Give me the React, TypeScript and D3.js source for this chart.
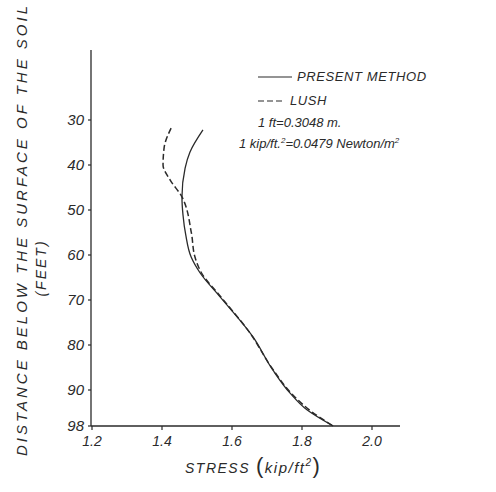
import React from "react";
import * as d3 from "d3";

const yTicks = [30, 40, 50, 60, 70, 80, 90, 98];
const xTicks = [1.2, 1.4, 1.6, 1.8, 2.0];
const xTickLabels = ["1.2", "1.4", "1.6", "1.8", "2.0"];

const presentStress = [1.517, 1.48, 1.466, 1.457, 1.46, 1.468, 1.483, 1.509, 1.566, 1.66, 1.717, 1.766, 1.814, 1.889];
const presentDepth = [32.2, 37.1, 40.7, 47.1, 51.1, 55.6, 60.4, 64, 69.3, 78.2, 85.6, 90.7, 94.4, 98];

const lushStress = [1.426, 1.406, 1.403, 1.423, 1.457, 1.484, 1.494, 1.513, 1.566, 1.651, 1.714, 1.774, 1.829, 1.889];
const lushDepth = [31.8, 36.2, 40, 43.3, 47.1, 55.1, 60.4, 64, 69.1, 77.3, 85.1, 91.1, 94.9, 98];

const FONT = "'Liberation Sans', 'DejaVu Sans', sans-serif";
const INK = "#2a2a2a";

export default function App() {
  const x = d3.scaleLinear().domain([1.2, 2.0]).range([92, 372]);
  const y = d3.scaleLinear().domain([30, 98]).range([120, 426]);

  const line = d3
    .line<[number, number]>()
    .x((d) => x(d[0]))
    .y((d) => y(d[1]))
    .curve(d3.curveMonotoneY);

  const present = line(presentStress.map((s, i) => [s, presentDepth[i]]) as [number, number][]) || "";
  const lush = line(lushStress.map((s, i) => [s, lushDepth[i]]) as [number, number][]) || "";

  return (
    <svg width={496} height={492} style={{ position: "absolute", left: 0, top: 0, background: "#fff" }}>
      {/* axes */}
      <line x1={91} y1={50} x2={91} y2={426} stroke={INK} strokeWidth={1.3} />
      <line x1={91} y1={426} x2={400} y2={426} stroke={INK} strokeWidth={1.3} />
      {yTicks.map((t) => (
        <g key={"y" + t}>
          <line x1={88} x2={91} y1={y(t)} y2={y(t)} stroke={INK} strokeWidth={1.2} />
          <text x={84} y={y(t) + 5} textAnchor="end" fontFamily={FONT} fontStyle="italic" fontSize={15} fill={INK}>
            {t}
          </text>
        </g>
      ))}
      {xTicks.map((t, i) => (
        <g key={"x" + t}>
          <line x1={x(t)} x2={x(t)} y1={426} y2={430} stroke={INK} strokeWidth={1.2} />
          <text x={x(t)} y={446} textAnchor="middle" fontFamily={FONT} fontStyle="italic" fontSize={14} fill={INK}>
            {xTickLabels[i]}
          </text>
        </g>
      ))}
      {/* curves */}
      <path d={present} fill="none" stroke={INK} strokeWidth={1.3} />
      <path d={lush} fill="none" stroke={INK} strokeWidth={1.5} strokeDasharray="6,3" />

      {/* axis titles */}
      <text
        transform="translate(27,231) rotate(-90)"
        textAnchor="middle"
        fontFamily={FONT}
        fontStyle="italic"
        fontSize={15}
        fill={INK}
        textLength={450}
        lengthAdjust="spacing"
      >
        DISTANCE BELOW THE SURFACE OF THE SOIL
      </text>
      <text
        transform="translate(46,268) rotate(-90)"
        textAnchor="middle"
        fontFamily={FONT}
        fontStyle="italic"
        fontSize={14}
        fill={INK}
        letterSpacing={2}
      >
        (FEET)
      </text>
      <text x={185} y={473} fontFamily={FONT} fontStyle="italic" fontSize={14} fill={INK} letterSpacing={1.5}>
        STRESS
        <tspan dx={6} fontSize={22} fontStyle="normal">(</tspan>
        <tspan fontSize={15}>kip/ft</tspan>
        <tspan fontSize={10} dy={-7}>2</tspan>
        <tspan fontSize={22} dy={7} fontStyle="normal">)</tspan>
      </text>

      {/* legend */}
      <line x1={258} x2={292} y1={77} y2={77} stroke={INK} strokeWidth={1.2} />
      <text x={297} y={81} fontFamily={FONT} fontStyle="italic" fontSize={13} fill={INK} letterSpacing={0.6}>
        PRESENT METHOD
      </text>
      <line x1={258} x2={285} y1={101} y2={101} stroke={INK} strokeWidth={1.2} strokeDasharray="6,3" />
      <text x={290} y={105} fontFamily={FONT} fontStyle="italic" fontSize={13} fill={INK} letterSpacing={0.6}>
        LUSH
      </text>
      <text x={258} y={127} fontFamily={FONT} fontStyle="italic" fontSize={13} fill={INK}>
        1 ft=0.3048 m.
      </text>
      <text x={239} y={148} fontFamily={FONT} fontStyle="italic" fontSize={13} fill={INK}>
        1 kip/ft.<tspan fontSize={8} dy={-5}>2</tspan>
        <tspan dy={5}>=0.0479 Newton/m</tspan>
        <tspan fontSize={8} dy={-5}>2</tspan>
      </text>
    </svg>
  );
}
